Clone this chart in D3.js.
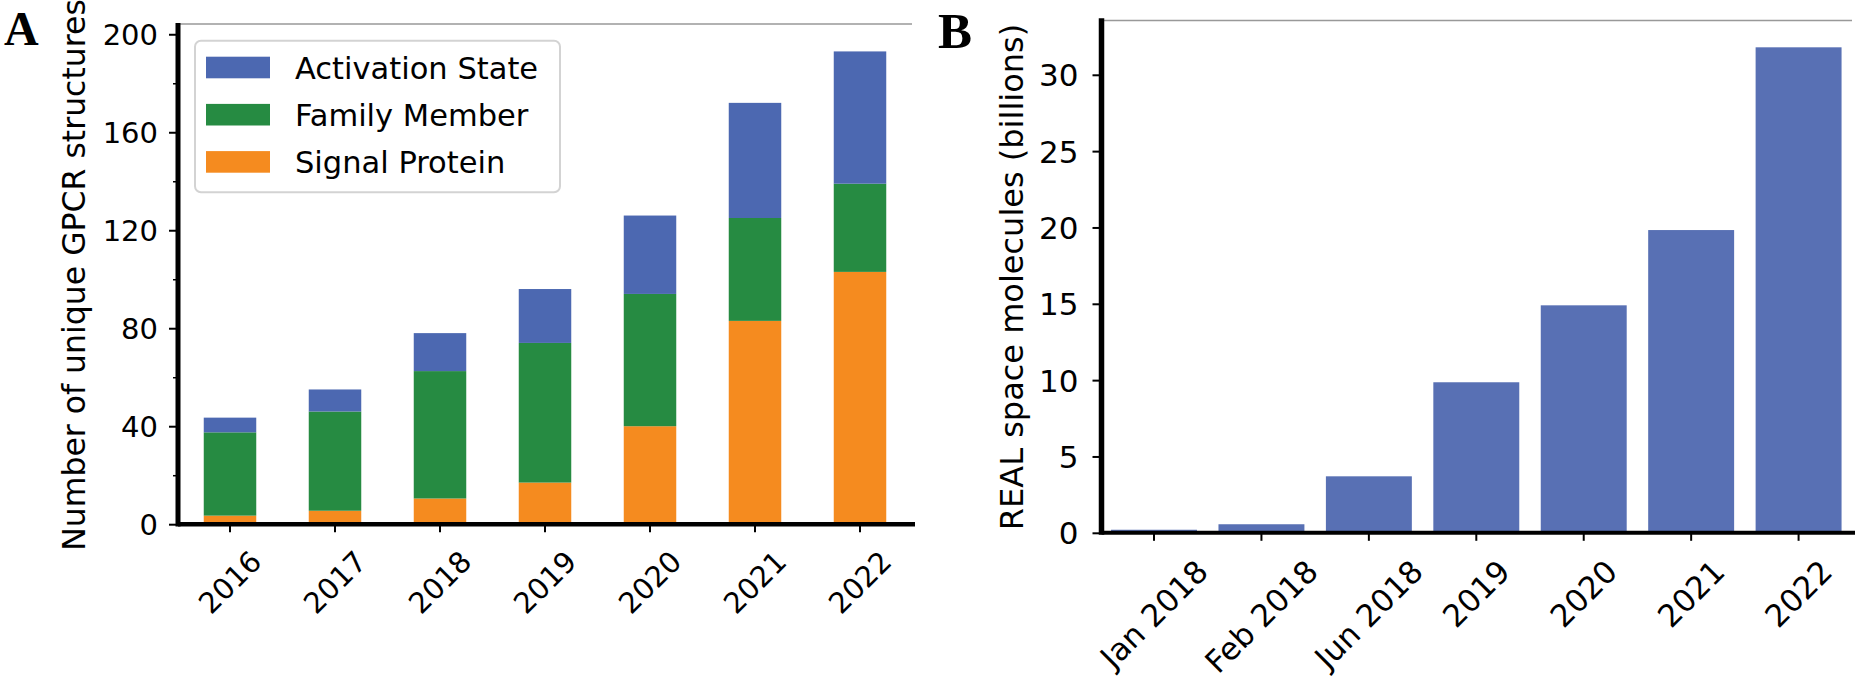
<!DOCTYPE html>
<html><head><meta charset="utf-8">
<script src="https://cdn.jsdelivr.net/npm/d3@7"></script>
<style>body{margin:0;background:#fff} svg{display:block} text{font-family:"DejaVu Sans",sans-serif;fill:#000}</style>
</head><body>
<svg id="c" width="1857" height="676"></svg>
<script>
// ---- Data: panel A ----
const yearsA = ["2016","2017","2018","2019","2020","2021","2022"];
const signalProtein   = [3.5, 5.5, 10.5, 17, 40, 83, 103];
const familyMember    = [34, 40.5, 52, 57, 54, 42, 36];
const activationState = [6, 9, 15.5, 22, 32, 47, 54];
const seriesNames = ["Signal Protein", "Family Member", "Activation State"];
const ticksA = [0, 40, 80, 120, 160, 200];
const minorTicksA = [20, 60, 100, 140, 180];
// ---- Data: panel B ----
const datesB = ["Jan 2018","Feb 2018","Jun 2018","2019","2020","2021","2022"];
const realSpace = [0.2, 0.56, 3.7, 9.86, 14.9, 19.83, 31.8];
const ticksB = [0, 5, 10, 15, 20, 25, 30];

const colors = {"Signal Protein":"#f58b1f","Family Member":"#268b42","Activation State":"#4c68b1"};
const colorB = "#5870b4";

const svg = d3.select("#c");

// ================= Panel A =================
const A = {left:178, right:915, top:23, bottom:524.2};
const xA = d3.scaleBand().domain(yearsA).range([177.5, 912.5]).paddingInner(0.5).paddingOuter(0.25);
const yA = d3.scaleLinear().domain([0, 204.6]).range([A.bottom, A.top]);

const rowsA = yearsA.map((y,i)=>({year:y,"Signal Protein":signalProtein[i],"Family Member":familyMember[i],"Activation State":activationState[i]}));
const stackA = d3.stack().keys(seriesNames)(rowsA);
const gA = svg.append("g");
gA.selectAll("g.s").data(stackA).join("g").attr("fill", d=>colors[d.key])
  .selectAll("rect").data(d=>d).join("rect")
  .attr("x", d=>xA(d.data.year)).attr("width", xA.bandwidth())
  .attr("y", d=>yA(d[1])).attr("height", d=>yA(d[0])-yA(d[1]));

// top thin line
gA.append("line").attr("x1",A.left).attr("x2",912).attr("y1",24).attr("y2",24).attr("stroke","#999").attr("stroke-width",1.5);

// y axis
const yAxA = gA.append("g").attr("transform",`translate(${A.left},0)`)
  .call(d3.axisLeft(yA).tickValues(ticksA).tickSize(9).tickPadding(11).tickFormat(d3.format("d")));
yAxA.select(".domain").remove();
yAxA.selectAll(".tick line").attr("stroke","#000").attr("stroke-width",2);
yAxA.selectAll(".tick text").style("font-size","29px").attr("dy","0.36em");
const yMinA = gA.append("g").attr("transform",`translate(${A.left},0)`)
  .call(d3.axisLeft(yA).tickValues(minorTicksA).tickSize(5).tickFormat(""));
yMinA.select(".domain").remove();
yMinA.selectAll(".tick line").attr("stroke","#000").attr("stroke-width",1.5);

// x axis
const xAxA = gA.append("g").attr("transform",`translate(0,${A.bottom})`)
  .call(d3.axisBottom(xA).tickSize(8).tickPadding(0));
xAxA.select(".domain").remove();
xAxA.selectAll(".tick line").attr("stroke","#000").attr("stroke-width",2);
xAxA.selectAll(".tick text").style("font-size","29px")
  .attr("text-anchor","middle").attr("dy","0.35em")
  .each(function(){ const w=this.getComputedTextLength(); const off=32+w*0.7071/2;
    d3.select(this).attr("y",0).attr("transform",`translate(0,${off}) rotate(-45)`); });

// spines
gA.append("line").attr("x1",A.left).attr("x2",A.left).attr("y1",A.top).attr("y2",A.bottom+2.2).attr("stroke","#000").attr("stroke-width",5);
gA.append("line").attr("x1",A.left).attr("x2",A.right).attr("y1",A.bottom).attr("y2",A.bottom).attr("stroke","#000").attr("stroke-width",4.5);

// y label
gA.append("text").attr("transform","translate(85,275) rotate(-90)").attr("text-anchor","middle")
  .style("font-size","31.5px").text("Number of unique GPCR structures");

// legend
const leg = gA.append("g");
leg.append("rect").attr("x",195).attr("y",40.7).attr("width",365).attr("height",151.6).attr("rx",6)
  .attr("fill","#fff").attr("stroke","#d3d3d3").attr("stroke-width",2);
const legOrder = ["Activation State","Family Member","Signal Protein"];
legOrder.forEach((k,i)=>{
  const cy = 67.5 + i*47.2;
  leg.append("rect").attr("x",206).attr("y",cy-10.8).attr("width",64).attr("height",21.6).attr("fill",colors[k]);
  leg.append("text").attr("x",295).attr("y",cy+11.5).style("font-size","30.5px").text(k);
});

// panel label
svg.append("text").attr("x",4).attr("y",45).style("font-family","'Liberation Serif',serif").style("font-weight","bold").style("font-size","48px").text("A");

// ================= Panel B =================
const B = {left:1101.5, right:1855, top:18.3, bottom:532.8};
const xB = d3.scaleBand().domain(datesB).range([1100.3, 1852.3]).paddingInner(0.2).paddingOuter(0.1);
const yB = d3.scaleLinear().domain([0, 33.7]).range([B.bottom, B.top]);
const gB = svg.append("g");
gB.selectAll("rect.b").data(datesB.map((d,i)=>({d,v:realSpace[i]}))).join("rect")
  .attr("x", d=>xB(d.d)).attr("width", xB.bandwidth())
  .attr("y", d=>yB(d.v)).attr("height", d=>yB(0)-yB(d.v)).attr("fill", colorB);

gB.append("line").attr("x1",B.left).attr("x2",1852).attr("y1",20.5).attr("y2",20.5).attr("stroke","#999").attr("stroke-width",1.5);

const yAxB = gB.append("g").attr("transform",`translate(${B.left},0)`)
  .call(d3.axisLeft(yB).tickValues(ticksB).tickSize(9).tickPadding(14).tickFormat(d3.format("d")));
yAxB.select(".domain").remove();
yAxB.selectAll(".tick line").attr("stroke","#000").attr("stroke-width",2);
yAxB.selectAll(".tick text").style("font-size","31px").attr("dy","0.36em");

const xAxB = gB.append("g").attr("transform",`translate(0,${B.bottom})`)
  .call(d3.axisBottom(xB).tickSize(8).tickPadding(0));
xAxB.select(".domain").remove();
xAxB.selectAll(".tick line").attr("stroke","#000").attr("stroke-width",2);
xAxB.selectAll(".tick text").style("font-size","31px")
  .attr("text-anchor","middle").attr("dy","0.35em")
  .each(function(){ const w=this.getComputedTextLength(); const off=33+w*0.7071/2;
    d3.select(this).attr("y",0).attr("transform",`translate(0,${off}) rotate(-45)`); });

gB.append("line").attr("x1",B.left).attr("x2",B.left).attr("y1",B.top).attr("y2",B.bottom+2).attr("stroke","#000").attr("stroke-width",5.5);
gB.append("line").attr("x1",B.left).attr("x2",B.right).attr("y1",B.bottom).attr("y2",B.bottom).attr("stroke","#000").attr("stroke-width",4);

gB.append("text").attr("transform","translate(1023,277) rotate(-90)").attr("text-anchor","middle")
  .style("font-size","32px").text("REAL space molecules (billions)");

svg.append("text").attr("x",938).attr("y",47.5).style("font-family","'Liberation Serif',serif").style("font-weight","bold").style("font-size","51px").text("B");
</script>
</body></html>
